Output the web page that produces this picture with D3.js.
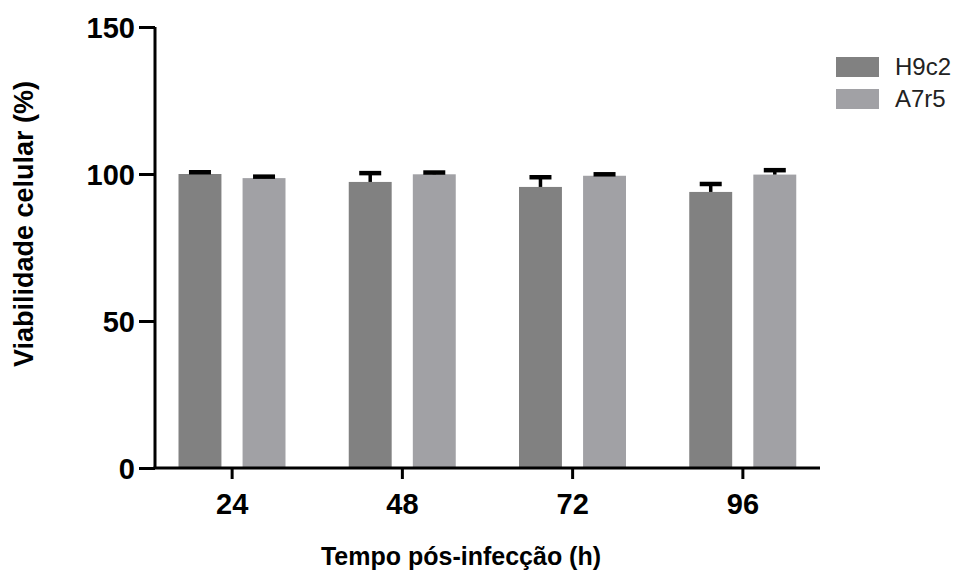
<!DOCTYPE html>
<html>
<head>
<meta charset="utf-8">
<script src="https://cdn.jsdelivr.net/npm/d3@7"></script>
<style>
  body { margin: 0; background: #fff; }
  svg { display: block; }
  text { font-family: "Liberation Sans", Arial, sans-serif; }
</style>
</head>
<body>
<div id="chart"></div>
<script>
// data
var categories = ["24", "48", "72", "96"];
var seriesNames = ["H9c2", "A7r5"];
var h9c2Mean = [100.0, 97.3, 95.6, 93.9];
var h9c2Err = [0.6, 3.0, 3.3, 2.7];
var a7r5Mean = [98.6, 99.9, 99.4, 99.8];
var a7r5Err = [0.5, 0.6, 0.5, 1.5];
var yTicks = [0, 50, 100, 150];

var colors = ["#818181", "#a1a1a5"];

var width = 974, height = 573;

var svg = d3.select('#chart')
      .append('svg')
      .attr('width', width)
      .attr('height', height);

//scales
var x = d3.scaleBand().domain(categories).range([147, 828]);
var xs = d3.scaleBand().domain(seriesNames)
      .range([31.5, 138.5]).paddingInner(0.33);
var y = d3.scaleLinear().domain([0, 150]).range([468, 27]);

//rows for the bars
var rows = [];
categories.forEach(function (c, i) {
      rows.push({ cat: c, s: seriesNames[0], v: h9c2Mean[i], e: h9c2Err[i] });
      rows.push({ cat: c, s: seriesNames[1], v: a7r5Mean[i], e: a7r5Err[i] });
});

var color = d3.scaleOrdinal().domain(seriesNames).range(colors);

var bars = svg.append('g');
bars.selectAll('rect')
      .data(rows)
      .enter().append('rect')
      .attr('x', function (d) { return x(d.cat) + xs(d.s); })
      .attr('width', xs.bandwidth())
      .attr('y', function (d) { return y(d.v); })
      .attr('height', function (d) { return y(0) - y(d.v); })
      .style('fill', function (d) { return color(d.s); });

//error bars (upper only)
var err = svg.append('g').attr('stroke', '#000');
err.selectAll('line.stem')
      .data(rows)
      .enter().append('line')
      .attr('class', 'stem')
      .attr('x1', function (d) { return x(d.cat) + xs(d.s) + xs.bandwidth() / 2; })
      .attr('x2', function (d) { return x(d.cat) + xs(d.s) + xs.bandwidth() / 2; })
      .attr('y1', function (d) { return y(d.v); })
      .attr('y2', function (d) { return y(d.v + d.e); })
      .attr('stroke-width', 3.5);
err.selectAll('line.cap')
      .data(rows)
      .enter().append('line')
      .attr('class', 'cap')
      .attr('x1', function (d) { return x(d.cat) + xs(d.s) + xs.bandwidth() / 2 - 11; })
      .attr('x2', function (d) { return x(d.cat) + xs(d.s) + xs.bandwidth() / 2 + 11; })
      .attr('y1', function (d) { return y(d.v + d.e); })
      .attr('y2', function (d) { return y(d.v + d.e); })
      .attr('stroke-width', 4.5);

//y axis
var yAxis = svg.append('g')
      .attr('transform', 'translate(155,0)')
      .call(d3.axisLeft(y).tickValues(yTicks).tickSize(16).tickPadding(4));
yAxis.select('.domain').attr('d', 'M0,' + y(150) + 'V' + y(0));

//x axis
var xAxis = svg.append('g')
      .attr('transform', 'translate(0,' + y(0) + ')')
      .call(d3.axisBottom(x).tickSize(11).tickPadding(14));
xAxis.select('.domain').attr('d', 'M153.5,0H820');

svg.selectAll('.domain, .tick line')
      .attr('stroke', '#000')
      .attr('stroke-width', 3);
svg.selectAll('.tick text')
      .attr('fill', '#000')
      .style('font-size', '29px')
      .style('font-weight', 'bold');
yAxis.selectAll('.tick text').attr('dy', '0.36em');

//axis titles
svg.append('text')
      .attr('x', 461)
      .attr('y', 565)
      .attr('text-anchor', 'middle')
      .style('font-size', '25px')
      .style('font-weight', 'bold')
      .text('Tempo pós-infecção (h)');
svg.append('text')
      .attr('transform', 'translate(33,224) rotate(-90)')
      .attr('text-anchor', 'middle')
      .style('font-size', '27px')
      .style('font-weight', 'bold')
      .text('Viabilidade celular (%)');

//legend
var legend = svg.append('g').attr('transform', 'translate(836,57)');
var li = legend.selectAll('g')
      .data(seriesNames)
      .enter().append('g')
      .attr('transform', function (d, i) { return 'translate(0,' + i * 32 + ')'; });
li.append('rect')
      .attr('width', 43)
      .attr('height', 20)
      .style('fill', function (d) { return color(d); });
li.append('text')
      .attr('x', 59)
      .attr('y', 10)
      .attr('dy', '0.35em')
      .style('font-size', '24px')
      .style('fill', '#222')
      .text(function (d) { return d; });
</script>
</body>
</html>
